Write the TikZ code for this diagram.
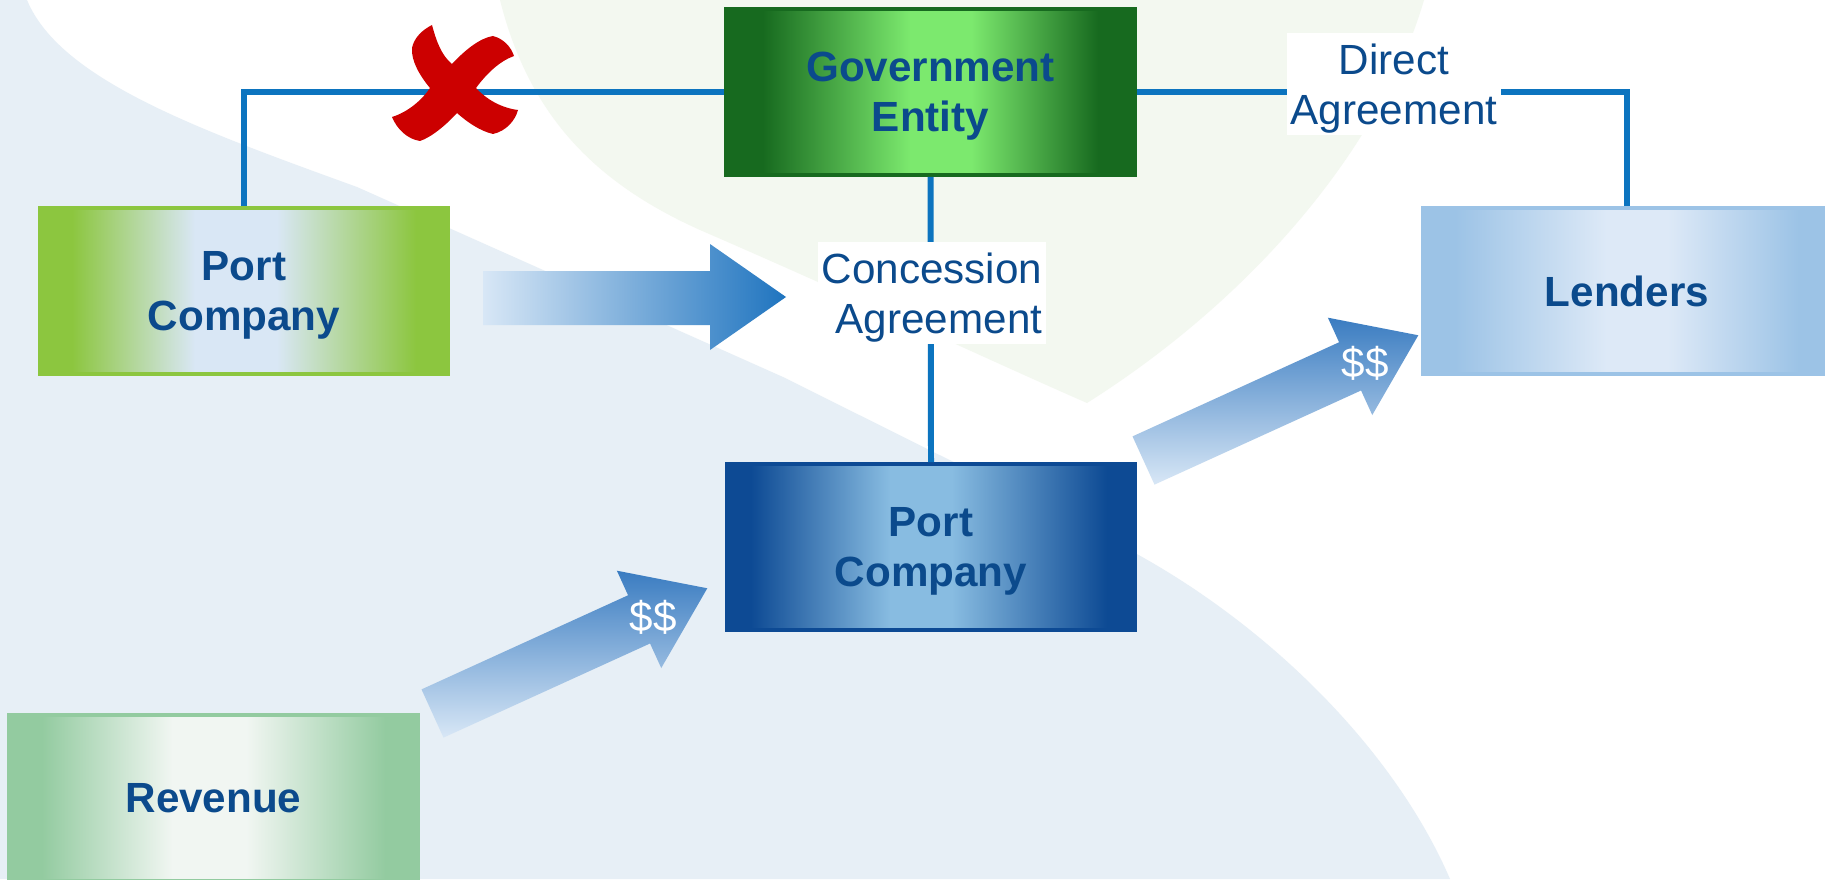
\documentclass[tikz,border=0pt]{standalone}
\usepackage{fontspec}
\setmainfont{Liberation Sans}

\definecolor{textblue}{HTML}{0B4A8C}
\definecolor{linkblue}{HTML}{0C74BF}
\definecolor{govdark}{HTML}{176A1F}
\definecolor{govlight}{HTML}{7CE96E}
\definecolor{portgreen}{HTML}{8CC63F}
\definecolor{portpale}{HTML}{D9E7F5}
\definecolor{lendblue}{HTML}{9CC3E6}
\definecolor{lendpale}{HTML}{DDE9F7}
\definecolor{portnavy}{HTML}{0D4A94}
\definecolor{portsky}{HTML}{88BCE1}
\definecolor{revgreen}{HTML}{93CBA0}
\definecolor{revpale}{HTML}{F1F6F2}
\definecolor{arrowpale}{HTML}{D8E7F6}
\definecolor{arrowblue}{HTML}{1F74BF}
\definecolor{moneyblue}{HTML}{3A7CC1}
\definecolor{crossred}{HTML}{CC0000}
\definecolor{bgblue}{HTML}{E7EFF6}
\definecolor{bggreen}{HTML}{F3F8F0}

% tikz fits the 25bp--75bp band of a shading to the path
\pgfdeclarehorizontalshading{govshade}{100bp}{color(0bp)=(govdark); color(29.5bp)=(govdark); color(47.5bp)=(govlight); color(55bp)=(govlight); color(70.5bp)=(govdark); color(100bp)=(govdark)}
\pgfdeclarehorizontalshading{portashade}{100bp}{color(0bp)=(portgreen); color(29bp)=(portgreen); color(44bp)=(portpale); color(54bp)=(portpale); color(71bp)=(portgreen); color(100bp)=(portgreen)}
\pgfdeclarehorizontalshading{lendshade}{100bp}{color(0bp)=(lendblue); color(29bp)=(lendblue); color(47.5bp)=(lendpale); color(55bp)=(lendpale); color(71bp)=(lendblue); color(100bp)=(lendblue)}
\pgfdeclarehorizontalshading{portbshade}{100bp}{color(0bp)=(portnavy); color(28bp)=(portnavy); color(45bp)=(portsky); color(52.5bp)=(portsky); color(71.5bp)=(portnavy); color(100bp)=(portnavy)}
\pgfdeclarehorizontalshading{revshade}{100bp}{color(0bp)=(revgreen); color(29bp)=(revgreen); color(45bp)=(revpale); color(54bp)=(revpale); color(71bp)=(revgreen); color(100bp)=(revgreen)}

\begin{document}
\begin{tikzpicture}[x=0.01cm, y=-0.01cm,
  box/.style={rectangle, shade, minimum width=4.09cm, minimum height=1.66cm, align=center, text depth=0pt, text=textblue, font=\fontsize{12}{14.2}\selectfont\bfseries, line width=1pt},
  link/.style={draw=linkblue, line width=1.7pt},
  tag/.style={fill=white, text=textblue, font=\fontsize{12}{14.2}\selectfont, text depth=0pt, inner xsep=1pt, inner ysep=3pt},
  money/.style={top color=moneyblue, bottom color=arrowpale},
  cash/.style={text=white, font=\fontsize{12}{14}\selectfont}]
\useasboundingbox (0,0) rectangle (1825,879);
\clip (0,0) rectangle (1825,879);

% backdrop
\fill[white] (0,0) rectangle (1825,879);
\fill[bgblue] (0,0) -- (27,0) .. controls (60,80) and (200,130) .. (357,187) -- (783,377) -- (1100,535)
  .. controls (1250,607) and (1390,740) .. (1450,879) -- (0,879) -- cycle;
\fill[bggreen] (500,0) .. controls (530,120) and (600,185) .. (700,230)
  .. controls (850,295) and (1000,365) .. (1087,403)
  .. controls (1250,300) and (1380,150) .. (1424,0) -- cycle;

\node[box, shading=govshade, draw=govdark] (gov) at (930.5,92) {Government\\Entity};
\node[box, shading=portashade, draw=portgreen] (portA) at (244,291) {Port\\Company};
\node[box, shading=lendshade, draw=lendblue] (lenders) at (1627,291) {Lenders};
\node[box, shading=portbshade, draw=portnavy] (portB) at (931,547) {Port\\Company};
\node[box, shading=revshade, draw=revgreen] (revenue) at (213.5,798) {Revenue};

\draw[link] (portA.north) |- (gov.west);
\draw[link] (gov.east) -| (lenders.north);
\draw[link] (gov.south) -- (portB.north);

\node[tag, align=center] (direct) at (1394,84) {Direct\\Agreement};
\node[tag, align=right] (concession) at (932,293) {Concession\\Agreement};

% hand-off arrow
\shade[left color=arrowpale, right color=arrowblue] (483,271) -- (710,271) -- (710,244) -- (786,297)
  -- (710,350) -- (710,325) -- (483,325) -- cycle;

% cash flow arrows
\begin{scope}[shift={(1143.5,460.5)}, rotate=24.5]
\shade[money] (0,-26.5) -- (227,-26.5) -- (227,-53.5) -- (302,0) -- (227,53.5) -- (227,26.5) -- (0,26.5) -- cycle;
\end{scope}
\begin{scope}[shift={(432.5,713.5)}, rotate=24.5]
\shade[money] (0,-26.5) -- (227,-26.5) -- (227,-53.5) -- (302,0) -- (227,53.5) -- (227,26.5) -- (0,26.5) -- cycle;
\end{scope}
\node[cash] (cashA) at (1365,363) {\$\$};
\node[cash] (cashB) at (653,617) {\$\$};

% the crossed-out link
\fill[crossred] (432,25) .. controls (436,40) and (441,55) .. (452,64)
  .. controls (465,50) and (480,38) .. (493,36)
  .. controls (504,39) and (511,47) .. (514,56)
  .. controls (500,61) and (487,73) .. (476,88)
  .. controls (487,100) and (502,108) .. (518,110)
  .. controls (515,121) and (506,131) .. (493,134)
  .. controls (480,131) and (467,122) .. (457,113)
  .. controls (447,124) and (432,137) .. (420,141)
  .. controls (407,139) and (397,129) .. (392,117)
  .. controls (408,112) and (422,100) .. (430,88)
  .. controls (420,76) and (411,61) .. (412,48)
  .. controls (414,38) and (422,30) .. (432,25) -- cycle;
\end{tikzpicture}
\end{document}
